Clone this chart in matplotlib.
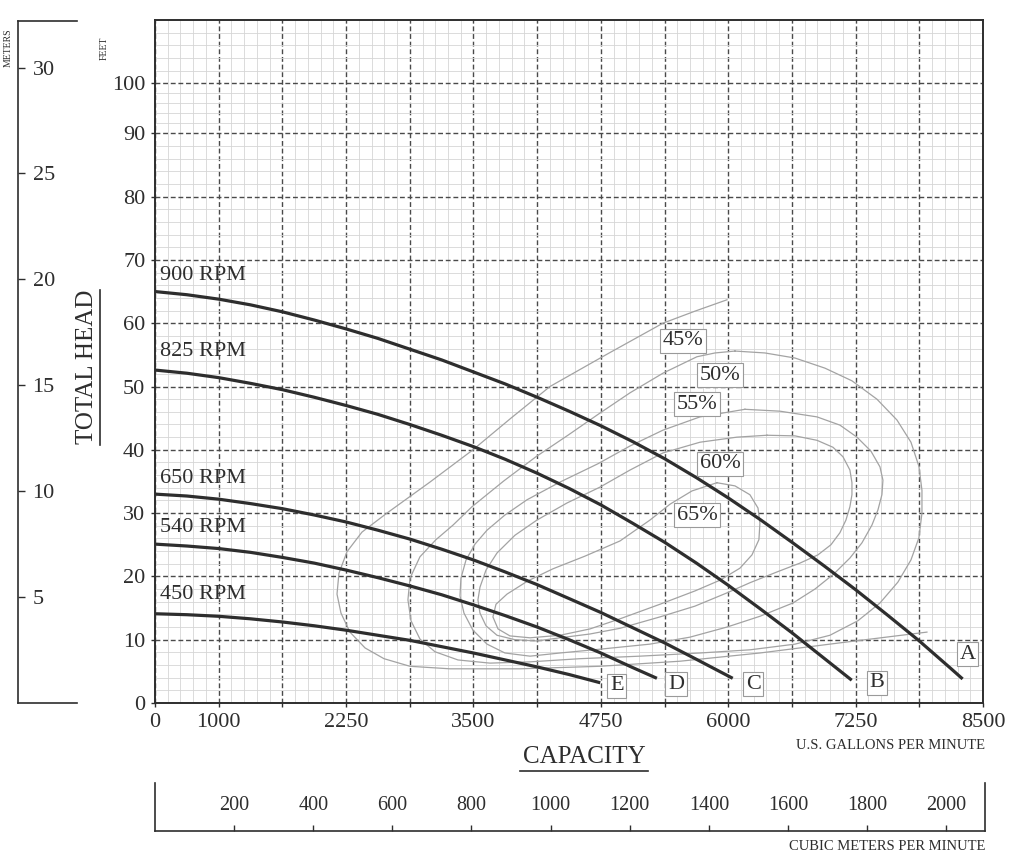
import numpy as np
import matplotlib.pyplot as plt
from matplotlib.lines import Line2D

plt.rcParams['font.family'] = 'Liberation Serif'

W, H = 1024, 855
INK = '#2e2e2e'

# capacity scale: first dashed cell is 1000 gpm, every other cell is 625 gpm
x_break_gpm = [0, 1000, 8500]
x_break_cell = [0, 1, 13]
# head scale: the 90-100 ft cell is printed shorter than the rest
y_break_ft = [0, 90, 100, 110]
y_break_pos = [0, 90, 97.9, 107.9]

x_grid_gpm = [0, 1000, 1625, 2250, 2875, 3500, 4125, 4750, 5375, 6000, 6625, 7250, 7875, 8500]
x_tick_labels = ['0', '1000', '', '2250', '', '3500', '', '4750', '', '6000', '', '7250', '', '8500']
y_ticks_ft = [0, 10, 20, 30, 40, 50, 60, 70, 80, 90, 100]
m_ticks = [5, 10, 15, 20, 25, 30]
cmm_ticks = [200, 400, 600, 800, 1000, 1200, 1400, 1600, 1800, 2000]

# head-capacity curves (read every half grid cell)
a_gpm = [0, 500, 1000, 1312, 1625, 1938, 2250, 2562, 2875, 3188, 3500, 3812, 4125, 4438,
         4750, 5062, 5375, 5688, 6000, 6312, 6625, 6938, 7250, 7562, 7875, 8188, 8300]
a_ft = [65.0, 64.5, 63.8, 62.9, 61.8, 60.5, 59.1, 57.6, 55.9, 54.2, 52.3, 50.4, 48.3, 46.1,
        43.8, 41.3, 38.6, 35.6, 32.4, 29.0, 25.4, 21.7, 17.9, 13.9, 9.8, 5.4, 3.8]
b_gpm = [0, 500, 1000, 1312, 1625, 1938, 2250, 2562, 2875, 3188, 3500, 3812, 4125, 4438,
         4750, 5062, 5375, 5688, 6000, 6312, 6625, 6938, 7212]
b_ft = [52.6, 52.1, 51.4, 50.5, 49.5, 48.3, 47.0, 45.6, 44.0, 42.3, 40.5, 38.5, 36.3, 33.9,
        31.3, 28.4, 25.4, 22.1, 18.6, 14.9, 11.1, 7.1, 3.6]
c_gpm = [0, 500, 1000, 1312, 1625, 1938, 2250, 2562, 2875, 3188, 3500, 3812, 4125, 4438,
         4750, 5062, 5375, 5688, 6044]
c_ft = [33.0, 32.7, 32.2, 31.5, 30.7, 29.7, 28.6, 27.3, 25.9, 24.3, 22.6, 20.7, 18.7, 16.5,
        14.3, 11.9, 9.5, 6.9, 3.9]
d_gpm = [0, 500, 1000, 1312, 1625, 1938, 2250, 2562, 2875, 3188, 3500, 3812, 4125, 4438,
         4750, 5062, 5300]
d_ft = [25.1, 24.8, 24.4, 23.8, 23.0, 22.1, 21.0, 19.8, 18.5, 17.1, 15.5, 13.8, 12.0, 10.0,
        7.9, 5.6, 3.9]
e_gpm = [0, 500, 1000, 1312, 1625, 1938, 2250, 2562, 2875, 3188, 3500, 3812, 4125, 4438, 4744]
e_ft = [14.1, 13.95, 13.7, 13.3, 12.8, 12.2, 11.5, 10.7, 9.9, 8.9, 7.9, 6.8, 5.7, 4.5, 3.2]

rpm_labels = ['900 RPM', '825 RPM', '650 RPM', '540 RPM', '450 RPM']
rpm_label_ft = [67.5, 55.5, 35.5, 27.8, 17.1]
end_letters = ['A', 'B', 'C', 'D', 'E']
end_letter_gpm = [8350, 7456, 6244, 5487, 4906]
end_letter_ft = [7.7, 3.2, 3.0, 3.0, 2.7]

# efficiency contours
eff45_gpm = [5988, 5673, 5359, 4810, 4251, 3868, 3495, 3073, 2651, 2406, 2259, 2180, 2161, 2200,
             2288, 2436, 2622, 2877, 3270, 3956, 4741, 5526, 6311, 7096, 7950]
eff45_ft = [63.7, 61.9, 60.0, 55.1, 50.0, 45.0, 40.0, 34.9, 30.0, 27.0, 23.9, 20.5, 17.2, 14.2,
            11.2, 8.7, 7.0, 5.8, 5.4, 5.4, 5.8, 6.6, 7.9, 9.5, 11.2]
eff50_gpm = [6066, 6360, 6655, 6949, 7214, 7459, 7656, 7793, 7871, 7901, 7901, 7871, 7793, 7665,
             7489, 7273, 6998, 6655, 6213, 5723, 5134, 4545, 4055, 3662, 3348, 3122, 2975, 2887,
             2857, 2877, 2975, 3132, 3299, 3485, 3799, 4113, 4427, 4741, 5036, 5359, 5693, 5870,
             6066]
eff50_ft = [55.6, 55.3, 54.5, 52.9, 50.9, 48.0, 44.7, 41.2, 37.4, 33.6, 30.0, 26.1, 22.6, 19.1,
            15.8, 13.0, 10.7, 9.3, 8.4, 7.9, 7.4, 7.0, 6.5, 6.3, 6.8, 8.1, 10.1, 13.0,
            16.3, 19.7, 23.1, 25.8, 28.1, 31.0, 35.1, 38.9, 42.3, 45.8, 49.0, 52.1, 54.7, 55.3,
            55.6]
eff55_gpm = [6164, 6508, 6871, 7096, 7263, 7400, 7489, 7518, 7508, 7469, 7410, 7312, 7194, 7037,
             6851, 6635, 6311, 5988, 5624, 5232, 4741, 4349, 4055, 3809, 3633, 3495, 3407, 3368,
             3377, 3427, 3515, 3633, 3809, 4025, 4349, 4722, 5036, 5359, 5723, 6164]
eff55_ft = [46.4, 46.1, 45.2, 43.9, 42.0, 39.8, 37.3, 35.2, 32.9, 30.5, 28.1, 25.3, 22.9, 20.4,
            18.0, 15.8, 13.7, 12.0, 10.4, 9.3, 8.5, 7.9, 7.4, 7.9, 9.3, 11.5, 14.2, 16.9,
            19.7, 22.6, 25.1, 27.3, 29.7, 32.1, 34.9, 37.8, 40.6, 43.1, 45.2, 46.4]
eff60_gpm = [6380, 6655, 6871, 7028, 7126, 7194, 7214, 7214, 7194, 7155, 7096, 7008, 6880, 6704,
             6478, 6213, 5988, 5673, 5330, 4938, 4643, 4349, 4123, 3907, 3731, 3623, 3564, 3544,
             3564, 3623, 3731, 3907, 4123, 4418, 4741, 5036, 5359, 5723, 6086, 6380]
eff60_ft = [42.3, 42.2, 41.5, 40.4, 38.9, 36.8, 34.8, 32.9, 31.0, 28.9, 26.9, 25.0, 23.4, 22.1,
            20.7, 19.0, 17.4, 15.3, 13.6, 11.8, 10.9, 10.3, 9.8, 10.0, 10.7, 12.2, 14.2, 16.3,
            18.3, 21.0, 23.7, 26.5, 28.9, 31.6, 34.1, 36.8, 39.5, 41.2, 42.0, 42.3]
eff65_gpm = [5889, 6066, 6213, 6292, 6311, 6301, 6233, 6115, 5919, 5673, 5330, 4938, 4643, 4349,
             4055, 3858, 3741, 3691, 3721, 3829, 4035, 4280, 4594, 4938, 5232, 5428, 5644, 5889]
eff65_ft = [34.8, 34.3, 32.9, 30.8, 28.4, 25.8, 23.4, 21.3, 19.4, 17.7, 15.6, 13.3, 11.7, 10.7,
            10.3, 10.6, 11.7, 13.6, 15.6, 17.2, 19.3, 21.2, 23.2, 25.6, 28.9, 31.4, 33.5, 34.8]
eff_labels = ['45%', '50%', '55%', '60%', '65%']
eff_label_gpm = [5556, 5919, 5694, 5919, 5694]
eff_label_ft = [57.2, 51.8, 47.2, 37.8, 29.7]


def fx(px):
    return px / W


def fy(py):
    return 1 - py / H


fig = plt.figure(figsize=(W / 100, H / 100), dpi=100)

#%% main chart
ax = fig.add_axes([fx(155), fy(703), fx(983) - fx(155), fy(20) - fy(703)])
ax.set_xscale('function', functions=(lambda v: np.interp(v, x_break_gpm, x_break_cell),
                                     lambda v: np.interp(v, x_break_cell, x_break_gpm)))
ax.set_yscale('function', functions=(lambda v: np.interp(v, y_break_ft, y_break_pos),
                                     lambda v: np.interp(v, y_break_pos, y_break_ft)))
ax.set_xlim(0, 8500)
ax.set_ylim(0, 110)

ax.set_xticks(x_grid_gpm)
ax.set_xticklabels(x_tick_labels)
ax.set_xticks(np.interp(np.arange(0, 13.01, 0.2), x_break_cell, x_break_gpm), minor=True)
ax.set_yticks(y_ticks_ft)
ax.set_yticks(np.arange(0, 110, 2), minor=True)
ax.tick_params(which='major', direction='out', length=3, width=1, labelsize=16,
               colors=INK, pad=4)
ax.tick_params(which='minor', length=0)
ax.grid(which='minor', color='#d6d6d6', lw=0.6)
ax.grid(which='major', color='#4a4a4a', lw=1.0, ls=(0, (3.5, 2)))
ax.set_axisbelow(True)
for s in ax.spines.values():
    s.set_color(INK)
    s.set_linewidth(1.4)

effs = [(eff45_gpm, eff45_ft), (eff50_gpm, eff50_ft), (eff55_gpm, eff55_ft),
        (eff60_gpm, eff60_ft), (eff65_gpm, eff65_ft)]
for g, f in effs:
    ax.plot(g, f, color='#a3a3a3', lw=0.9, zorder=3)

heads = [(a_gpm, a_ft), (b_gpm, b_ft), (c_gpm, c_ft), (d_gpm, d_ft), (e_gpm, e_ft)]
for g, f in heads:
    ax.plot(g, f, color=INK, lw=2.3, zorder=4, solid_capstyle='butt', solid_joinstyle='round')

for lab, y in zip(rpm_labels, rpm_label_ft):
    ax.text(78, y, lab, fontsize=16, color=INK, ha='left', va='center', zorder=5)

box = dict(boxstyle='square,pad=0.12', fc='white', ec='#9a9a9a', lw=0.8)
for lab, x, y in zip(eff_labels, eff_label_gpm, eff_label_ft):
    ax.text(x, y, lab, fontsize=16, color=INK, ha='center', va='center', bbox=box, zorder=6)
for lab, x, y in zip(end_letters, end_letter_gpm, end_letter_ft):
    ax.text(x, y, lab, fontsize=16, color=INK, ha='center', va='center', bbox=box, zorder=6)

#%% meters scale on the far left
axm = fig.add_axes([fx(18), fy(703), fx(77) - fx(18), fy(21) - fy(703)])
axm.set_facecolor('none')
axm.set_ylim(0, 32.2)
axm.set_xticks([])
axm.set_yticks(m_ticks)
axm.spines['right'].set_visible(False)
for s in axm.spines.values():
    s.set_color(INK)
    s.set_linewidth(1.2)
axm.tick_params(axis='y', left=True, right=False, labelleft=False, labelright=True,
                direction='in', length=5, width=1, pad=-32, labelsize=16, colors=INK)

#%% cubic meters scale at the bottom
axc = fig.add_axes([fx(155), fy(831), fx(985) - fx(155), fy(783) - fy(831)])
axc.set_facecolor('none')
axc.set_xlim(0, 2098)
axc.set_yticks([])
axc.set_xticks(cmm_ticks)
axc.spines['top'].set_visible(False)
for s in axc.spines.values():
    s.set_color(INK)
    s.set_linewidth(1.2)
axc.tick_params(axis='x', bottom=True, top=False, labelbottom=False, labeltop=True,
                direction='in', length=4.5, width=1, pad=-23, labelsize=14.5, colors=INK)

#%% titles and units
fig.text(fx(87), fy(367), 'TOTAL HEAD', rotation=90, fontsize=18, color=INK,
         ha='center', va='center')
fig.add_artist(Line2D([fx(100), fx(100)], [fy(290), fy(445)], color=INK, lw=1.2))
fig.text(fx(584), fy(757), 'CAPACITY', fontsize=18, color=INK, ha='center', va='center')
fig.add_artist(Line2D([fx(520), fx(648)], [fy(771), fy(771)], color=INK, lw=1.2))
fig.text(fx(985), fy(745), 'U.S. GALLONS PER MINUTE', fontsize=10.5, color=INK,
         ha='right', va='center')
fig.text(fx(985), fy(846), 'CUBIC METERS PER MINUTE', fontsize=10.5, color=INK,
         ha='right', va='center')
fig.text(fx(8), fy(48), 'METERS', rotation=90, fontsize=7, color=INK, ha='center', va='center')
fig.text(fx(104), fy(48), 'FEET', rotation=90, fontsize=7, color=INK, ha='center', va='center')

fig.savefig('out.png', dpi=100, facecolor='white')
